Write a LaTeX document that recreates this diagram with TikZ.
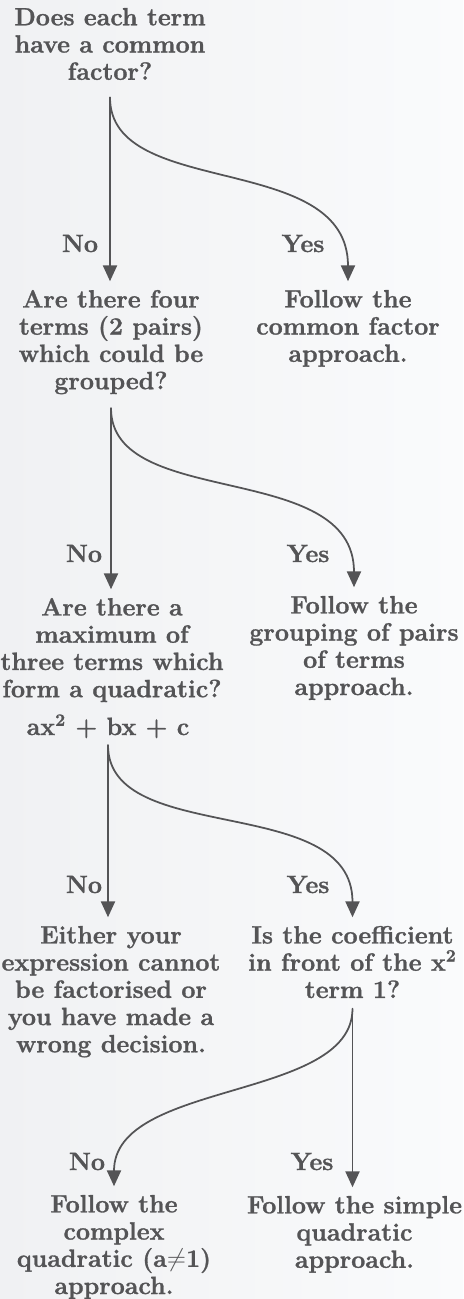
\documentclass[tikz,border=0pt]{standalone}
\usepackage{fontspec}
\setmainfont{Latin Modern Roman}[BoldFeatures={FakeBold=1.2}]
\usetikzlibrary{arrows.meta}
\definecolor{inkgrey}{RGB}{84,84,86}
\definecolor{paperL}{RGB}{240,241,243}
\definecolor{paperR}{RGB}{250,251,252}
\begin{document}
\begin{tikzpicture}[line cap=round, line join=round,
    txt/.style={inner sep=0pt, outer sep=0pt, align=center, text=inkgrey,
      font=\fontsize{14.2}{15.5}\selectfont\bfseries},
    lab/.style={txt, anchor=base},
    flow/.style={draw=inkgrey, line width=1pt, shorten >=5pt,
      -{Triangle[width=8pt,length=9pt]}}]
  \useasboundingbox (0,0) rectangle (9.26,-25.98);
  \shade[left color=paperL, right color=paperR] (0,0) rectangle (9.26,-25.98);
  \node[txt, anchor=north] (q1) at (2.20,-0.16) {Does each term\\have a common\\factor?};
  \node[txt, anchor=north] (q2) at (2.22,-5.80) {Are there four\\terms (2 pairs)\\which could be\\grouped?};
  \node[txt, anchor=north] (a1) at (6.96,-5.80) {Follow the\\common factor\\approach.};
  \node[txt, anchor=north] (q3) at (2.24,-11.96) {Are there a\\maximum of\\three terms which\\form a quadratic?};
  \node[txt, anchor=base] (quad) at (2.16,-14.70) {ax\textsuperscript{2} + bx + c};
  \node[txt, anchor=north] (a2) at (7.08,-11.92) {Follow the\\grouping of pairs\\of terms\\approach.};
  \node[txt, anchor=north] (a3) at (2.22,-18.52) {Either your\\expression cannot\\be factorised or\\you have made a\\wrong decision.};
  \node[txt, anchor=north] (q4) at (7.05,-18.52) {Is the coefficient\\in front of the x\textsuperscript{2}\\term 1?};
  \node[txt, anchor=north] (a4) at (2.28,-23.90) {Follow the\\complex\\quadratic (a$\neq$1)\\approach.};
  \node[txt, anchor=north] (a5) at (7.09,-23.92) {Follow the simple\\quadratic\\approach.};
  \draw[flow, shorten <=10pt] (q1.south) -- (q1.south |- q2.north);
  \draw[flow, shorten <=10pt] (q1.south) .. controls +(0,-2.4) and +(0,2.8) .. (a1.north);
  \node[lab] (no1) at (1.60,-5.04) {No};
  \node[lab] (yes1) at (6.06,-5.04) {Yes};
  \draw[flow, shorten <=8pt] (q2.south) -- (q2.south |- q3.north);
  \draw[flow, shorten <=8pt] (q2.south) .. controls +(0,-2.32) and +(0,2.74) .. (a2.north);
  \node[lab] (no2) at (1.68,-11.24) {No};
  \node[lab] (yes2) at (6.16,-11.24) {Yes};
  \draw[flow, shorten <=4pt] (quad.south) -- (quad.south |- a3.north);
  \draw[flow, shorten <=4pt] (quad.south) .. controls +(0,-2.18) and +(0,2.68) .. (q4.north);
  \node[lab] (no3) at (1.68,-17.86) {No};
  \node[lab] (yes3) at (6.16,-17.86) {Yes};
  \draw[flow, shorten <=6pt] (q4.south) -- (q4.south |- a5.north);
  \draw[flow, shorten <=6pt] (q4.south) .. controls +(0,-2.06) and +(0,2.3) .. (a4.north);
  \node[lab] (no4) at (1.74,-23.40) {No};
  \node[lab] (yes4) at (6.24,-23.40) {Yes};
\end{tikzpicture}
\end{document}
